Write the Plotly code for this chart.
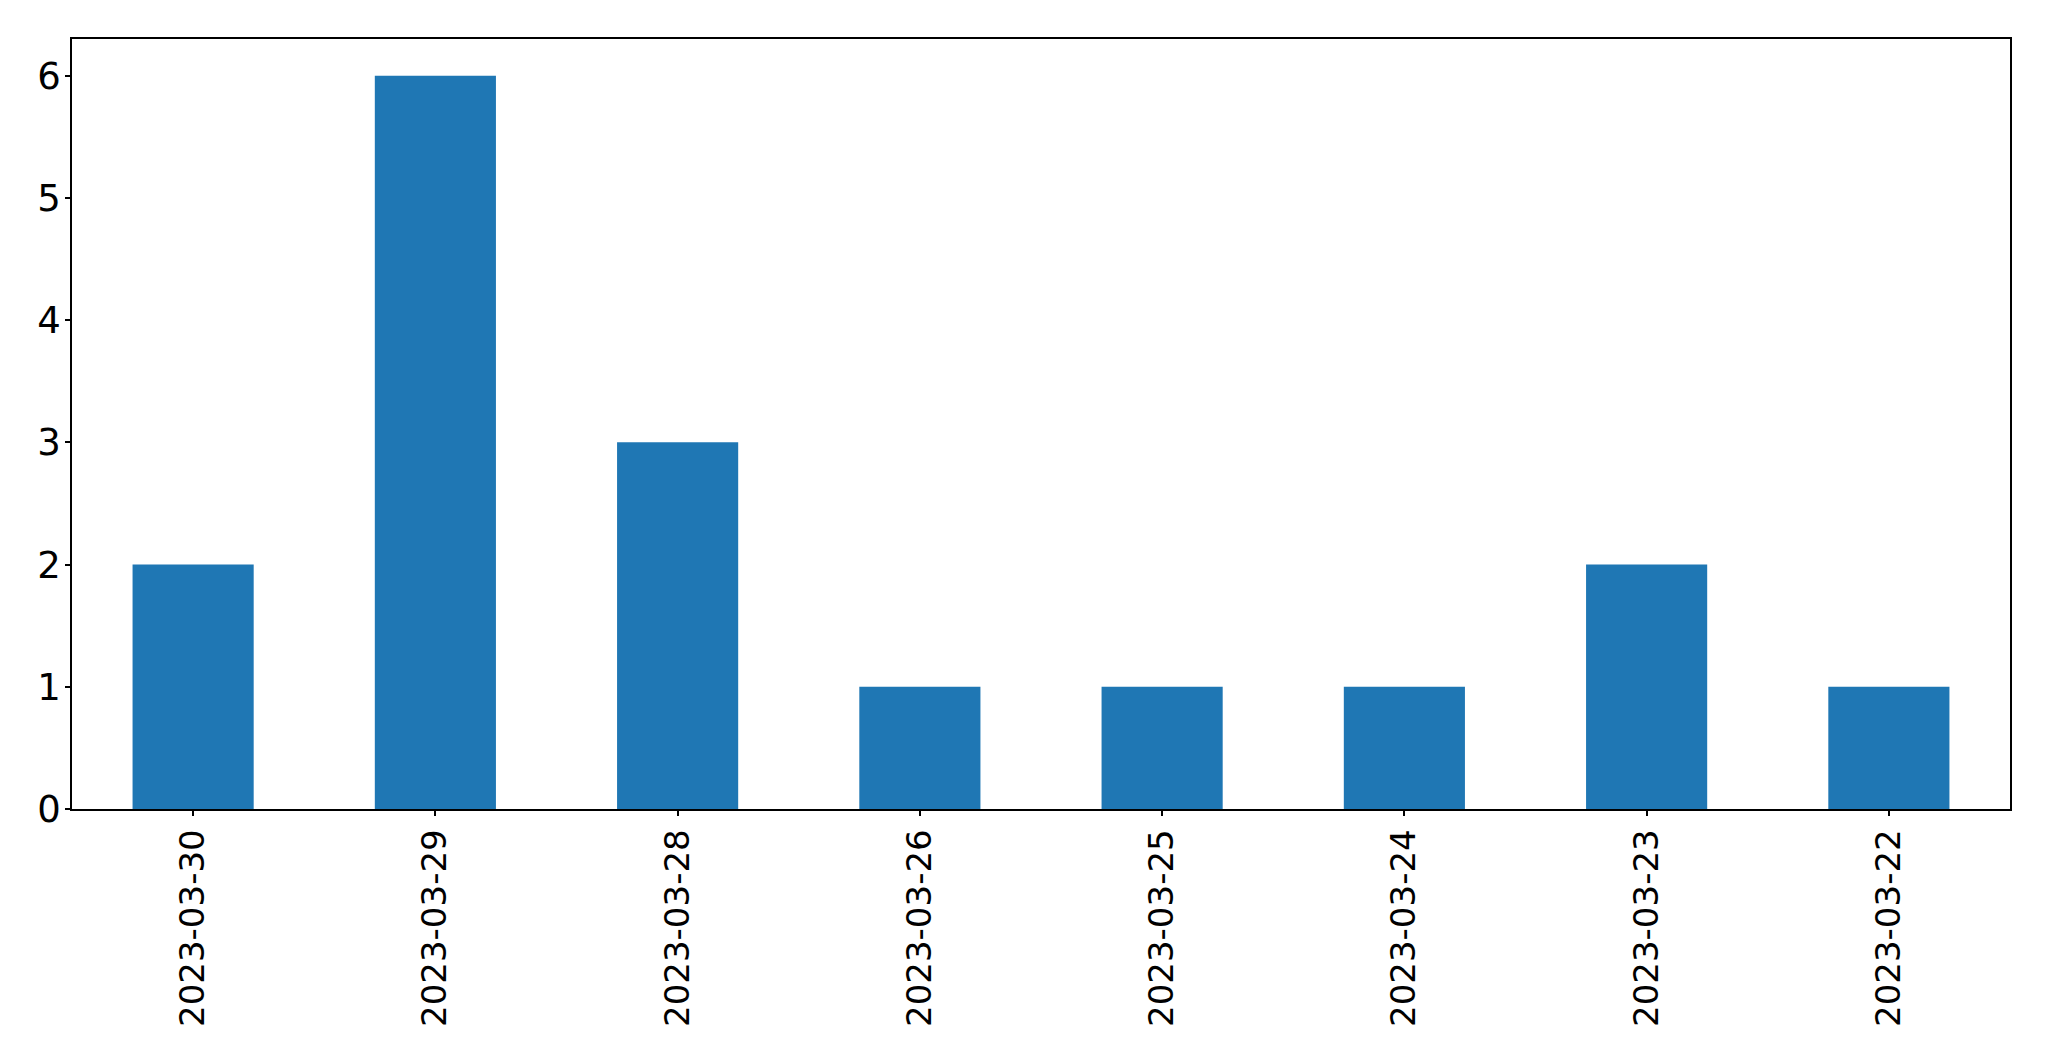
import plotly.graph_objects as go

dates = ["2023-03-30", "2023-03-29", "2023-03-28", "2023-03-26",
         "2023-03-25", "2023-03-24", "2023-03-23", "2023-03-22"]
counts = [2, 6, 3, 1, 1, 1, 2, 1]

fig = go.Figure(go.Bar(x=dates, y=counts, marker_color="#1f77b4",
                       marker_line_width=0, width=0.5))

xfont = dict(family="DejaVu Sans", size=34, color="black")
yfont = dict(family="DejaVu Sans", size=37, color="black")
fig.update_layout(
    width=2041, height=1053,
    margin=dict(l=64, r=39, t=31, b=252, pad=0),
    plot_bgcolor="white", paper_bgcolor="white",
    showlegend=False,
    font=xfont,
)
fig.update_xaxes(type="category", range=[-0.5, 7.5], tickangle=-90,
                 showline=True, linecolor="black", linewidth=1.5, mirror=True,
                 ticks="outside", ticklen=5, tickwidth=1.5, tickcolor="black",
                 showgrid=False, tickfont=xfont, automargin=False)
fig.update_yaxes(range=[0, 6.3], tickvals=[0, 1, 2, 3, 4, 5, 6],
                 showline=True, linecolor="black", linewidth=1.5, mirror=True,
                 ticks="outside", ticklen=5, tickwidth=1.5, tickcolor="black",
                 showgrid=False, zeroline=False, tickfont=yfont, automargin=False,
                 ticklabelstandoff=-3)

fig.write_html("out.html")
